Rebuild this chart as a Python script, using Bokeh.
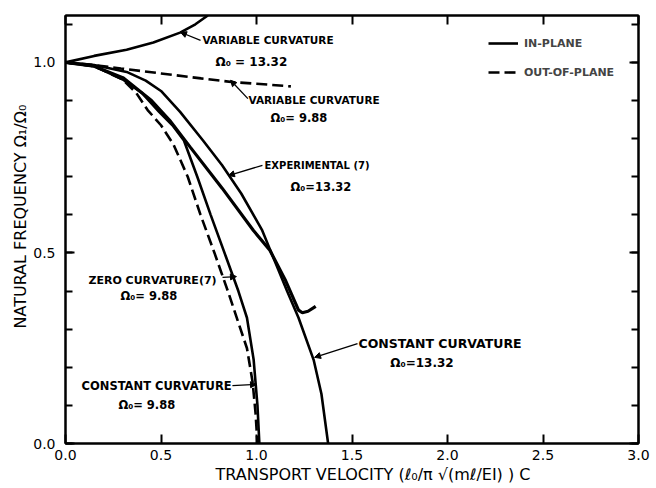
import math
from bokeh.plotting import figure
from bokeh.models import (Label, Arrow, NormalHead, LinearAxis, SingleIntervalTicker,
                          PrintfTickFormatter, CustomJSTickFormatter, Legend, LegendItem,
                          Range1d, Title)
from bokeh.embed import file_html
from bokeh.resources import INLINE

# ---- data ----
# in-plane, variable curvature, Omega0 = 13.32 (solid, rising)
var13_x = [0.0, 0.15, 0.32, 0.46, 0.60, 0.68, 0.745]
var13_y = [1.0, 1.017, 1.033, 1.052, 1.078, 1.10, 1.123]
# out-of-plane, variable curvature, Omega0 = 9.88 (dashed)
var988_x = [0.0, 0.15, 0.29, 0.50, 0.71, 0.88, 1.0, 1.18]
var988_y = [1.0, 0.993, 0.984, 0.971, 0.958, 0.948, 0.944, 0.937]
# in-plane, constant curvature, Omega0 = 13.32 (solid)
const13_x = [0.0, 0.15, 0.32, 0.42, 0.50, 0.60, 0.72, 0.82, 0.92, 1.03, 1.07, 1.16, 1.22, 1.30, 1.34, 1.375]
const13_y = [1.0, 0.993, 0.975, 0.952, 0.925, 0.87, 0.795, 0.73, 0.656, 0.559, 0.51, 0.40, 0.33, 0.218, 0.13, 0.0]
# experimental (7), Omega0 = 13.32 (solid, ends with hook)
exp_x = [0.0, 0.15, 0.30, 0.45, 0.55, 0.654, 0.82, 0.984, 1.07, 1.15, 1.22, 1.24, 1.27, 1.31]
exp_y = [1.0, 0.99, 0.96, 0.90, 0.845, 0.777, 0.67, 0.559, 0.507, 0.43, 0.35, 0.343, 0.347, 0.36]
# zero curvature (7), Omega0 = 9.88 (solid)
zero_x = [0.0, 0.15, 0.30, 0.40, 0.49, 0.56, 0.62, 0.69, 0.76, 0.84, 0.905, 0.95, 0.985, 1.005, 1.015]
zero_y = [1.0, 0.99, 0.955, 0.92, 0.87, 0.835, 0.795, 0.70, 0.60, 0.49, 0.40, 0.33, 0.22, 0.10, 0.0]
# out-of-plane, constant curvature, Omega0 = 9.88 (dashed)
cc988_x = [0.0, 0.15, 0.30, 0.37, 0.43, 0.50, 0.565, 0.64, 0.707, 0.78, 0.85, 0.91, 0.95, 0.98, 0.995, 1.005]
cc988_y = [1.0, 0.99, 0.955, 0.92, 0.875, 0.835, 0.785, 0.70, 0.60, 0.50, 0.40, 0.31, 0.25, 0.16, 0.08, 0.0]

x_ticks_interval = 0.5
y_ticks_interval = 0.5

# annotation texts: (text, x, y, font size)
notes = [
    ("VARIABLE CURVATURE", 0.717, 1.058, "10.5px"),
    ("Ω₀ = 13.32", 0.785, 1.0, "12px"),
    ("VARIABLE CURVATURE", 0.958, 0.90, "10.5px"),
    ("Ω₀= 9.88", 1.073, 0.853, "11.5px"),
    ("EXPERIMENTAL (7)", 1.042, 0.73, "10px"),
    ("Ω₀=13.32", 1.178, 0.672, "11.5px"),
    ("ZERO CURVATURE(7)", 0.12, 0.428, "11px"),
    ("Ω₀= 9.88", 0.288, 0.386, "11.5px"),
    ("CONSTANT CURVATURE", 0.084, 0.15, "11.5px"),
    ("Ω₀= 9.88", 0.277, 0.102, "11.5px"),
    ("CONSTANT CURVATURE", 1.534, 0.262, "12.5px"),
    ("Ω₀=13.32", 1.70, 0.21, "12px"),
]
# leader arrows: (x_start, y_start, x_end(tip), y_end(tip))
leaders = [
    (0.707, 1.058, 0.602, 1.079),
    (0.955, 0.905, 0.864, 0.953),
    (1.031, 0.730, 0.853, 0.703),
    (0.822, 0.436, 0.895, 0.438),
    (0.874, 0.152, 1.0, 0.155),
    (1.529, 0.262, 1.304, 0.226),
]

FONT = "DejaVu Sans"

p = figure(width=650, height=486, x_range=Range1d(0, 3.0), y_range=Range1d(0, 1.123),
           output_backend="svg", toolbar_location=None,
           min_border_left=65, min_border_right=12, min_border_top=15, min_border_bottom=43)
p.grid.visible = False
p.outline_line_color = "black"
p.outline_line_width = 2
p.background_fill_color = "white"
p.border_fill_color = "white"

LW = 2.6
r_var13 = p.line(var13_x, var13_y, line_color="black", line_width=LW)
r_var988 = p.line(var988_x, var988_y, line_color="black", line_width=LW, line_dash="11 5")
r_const13 = p.line(const13_x, const13_y, line_color="black", line_width=LW)
r_exp = p.line(exp_x, exp_y, line_color="black", line_width=LW + 0.6)
r_zero = p.line(zero_x, zero_y, line_color="black", line_width=LW)
r_cc988 = p.line(cc988_x, cc988_y, line_color="black", line_width=LW, line_dash="11 5")

def style_axis(ax, interval, minor, show_labels):
    ax.ticker = SingleIntervalTicker(interval=interval, num_minor_ticks=minor)
    ax.axis_line_color = "black"
    ax.axis_line_width = 2
    ax.major_tick_line_color = "black"
    ax.major_tick_line_width = 2
    ax.major_tick_in = 9
    ax.major_tick_out = 0
    ax.minor_tick_line_color = "black" if minor else None
    ax.minor_tick_line_width = 2
    ax.minor_tick_in = 7
    ax.minor_tick_out = 0
    if show_labels:
        ax.formatter = PrintfTickFormatter(format="%.1f")
        ax.major_label_text_font = FONT
        ax.major_label_text_font_size = "14px"
        ax.major_label_text_color = "black"
    else:
        ax.formatter = CustomJSTickFormatter(code="return ''")
        ax.major_label_standoff = 0

style_axis(p.xaxis[0], x_ticks_interval, 0, True)
p.xaxis[0].major_label_standoff = 6
style_axis(p.yaxis[0], y_ticks_interval, 5, True)
p.yaxis[0].major_label_standoff = 10

top = LinearAxis()
style_axis(top, x_ticks_interval, 0, False)
p.add_layout(top, "above")
right = LinearAxis()
style_axis(right, y_ticks_interval, 5, False)
p.add_layout(right, "right")

xtitle = Title(text="TRANSPORT VELOCITY (ℓ₀/π √(mℓ/EI) ) C", align="left", offset=150,
               text_font=FONT, text_font_size="16px", text_font_style="normal",
               text_color="black", standoff=0)
p.add_layout(xtitle, "below")
ytitle = Title(text="NATURAL FREQUENCY Ω₁/Ω₀", align="left", offset=115,
               text_font=FONT, text_font_size="16px", text_font_style="normal",
               text_color="black", standoff=2)
p.add_layout(ytitle, "left")

for txt, x, y, fs in notes:
    p.add_layout(Label(x=x, y=y, text=txt, text_font=FONT, text_font_size=fs,
                       text_font_style="bold", text_align="left", text_baseline="middle",
                       text_color="black"))

for xs, ys, xe, ye in leaders:
    p.add_layout(Arrow(x_start=xs, y_start=ys, x_end=xe, y_end=ye, line_width=1.3,
                       line_color="black",
                       end=NormalHead(size=6, fill_color="black", line_color="black")))

legend = Legend(items=[LegendItem(label="IN-PLANE", renderers=[r_const13]),
                       LegendItem(label="OUT-OF-PLANE", renderers=[r_cc988])],
                location=(423, 361), orientation="vertical",
                border_line_color=None, background_fill_alpha=0,
                padding=0, margin=0, spacing=9, glyph_width=30, glyph_height=20,
                label_height=20, label_standoff=6,
                label_text_font=FONT, label_text_font_size="11px",
                label_text_font_style="bold")
p.add_layout(legend, "center")

open("out.html", "w").write(file_html(p, INLINE))
